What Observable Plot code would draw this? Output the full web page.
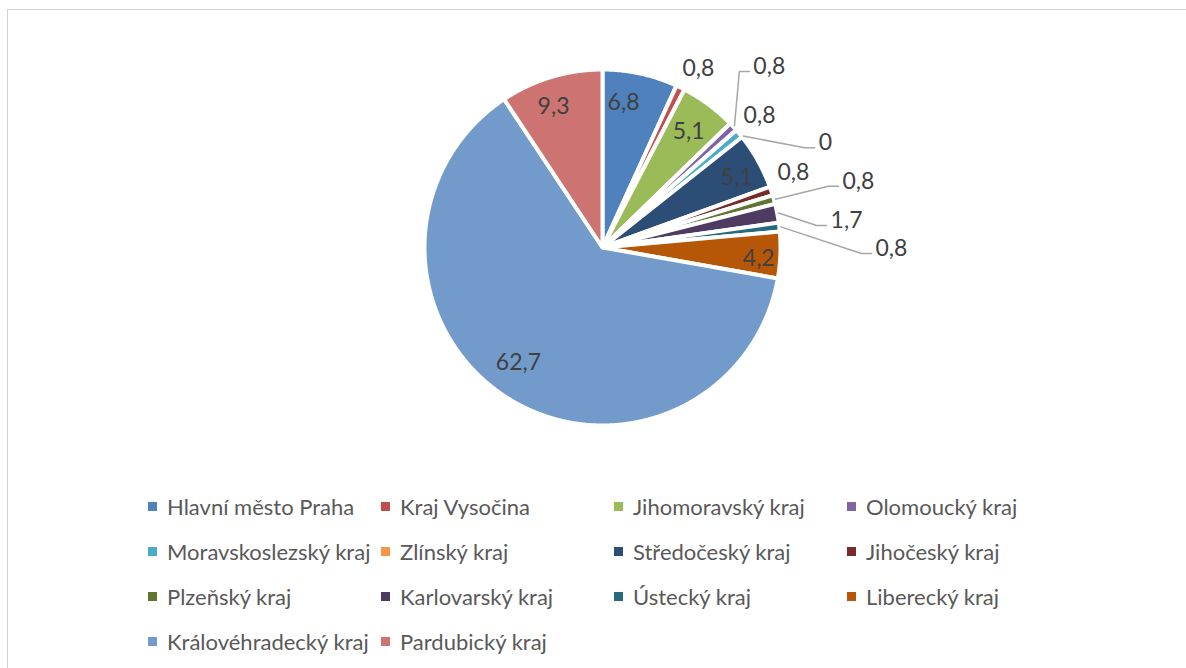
<!DOCTYPE html>
<html><head><meta charset="utf-8">
<script src="https://cdn.jsdelivr.net/npm/d3@7"></script>
<script src="https://cdn.jsdelivr.net/npm/@observablehq/plot@0.6"></script>
<style>
body{margin:0;background:#fff;font-family:Lato,"Open Sans",sans-serif}
#page{position:relative;width:1186px;height:668px;overflow:hidden;background:#fff}
#frame{position:absolute;left:7px;top:9px;width:1300px;height:800px;border-top:1px solid #d0d0d0;border-left:1px solid #d0d0d0}
#chart{position:absolute;left:0;top:0}
#legend{position:absolute;left:148px;top:484px;width:960px;display:flex;flex-wrap:wrap}
.item{width:233px;height:45px;display:flex;align-items:center;font-size:22px;color:#595959;white-space:nowrap}
.sw{width:9px;height:9px;margin-right:10px;flex:none}
</style></head><body>
<div id="page"><div id="frame"></div><div id="chart"></div><div id="legend"></div></div>
<script>
// ---- data ----
const regions = ["Hlavní město Praha","Kraj Vysočina","Jihomoravský kraj","Olomoucký kraj",
  "Moravskoslezský kraj","Zlínský kraj","Středočeský kraj","Jihočeský kraj",
  "Plzeňský kraj","Karlovarský kraj","Ústecký kraj","Liberecký kraj",
  "Královéhradecký kraj","Pardubický kraj"];
const values = [6.8,0.8,5.1,0.8,0.8,0,5.1,0.8,0.8,1.7,0.8,4.2,62.7,9.3];
const valueLabels = ["6,8","0,8","5,1","0,8","0,8","0","5,1","0,8","0,8","1,7","0,8","4,2","62,7","9,3"];
const colors = ["#4F81BD","#C0504D","#9BBB59","#8064A2","#4BACC6","#F79646","#2C4D75",
  "#772C2A","#5F7530","#4D3B62","#276A7C","#B65708","#729ACA","#CD7371"];

// ---- layout (label placement relative to each slice: radius factor, angle shift in degrees) ----
const labelLayout = [
  {pos:"in",r:0.83,da:-4},{pos:"out",r:1.153,da:2.2},{pos:"in",r:0.82,da:0},
  {pos:"lead",r:1.339,da:-7.5},{pos:"out",r:1.165,da:-0.2},{pos:"lead",r:1.365,da:12.5},
  {pos:"in",r:0.86,da:1.7},{pos:"out",r:1.165,da:-2.9},{pos:"lead",r:1.414,da:0.2},
  {pos:"lead",r:1.305,da:4.35},{pos:"lead",r:1.551,da:6.8},{pos:"in",r:0.89,da:1.6},
  {pos:"in",r:0.81,da:2.9},{pos:"in",r:0.85,da:-2.3}
];
const W = 1186, H = 480, CX = 602, CY = 247, RV = 176; // pixel center and visible radius
const RG = 178 / RV; // geometric radius (stroke eats part of it)

const rows = regions.map((name,i)=>({name, value:values[i], label:valueLabels[i], color:colors[i]}));
const arcs = d3.pie().sort(null).value(d=>d.value)(rows);

const pt = (a, r) => [Math.sin(a)*r, -Math.cos(a)*r];
const slicePts = [];
arcs.forEach(a=>{
  if (a.data.value <= 0) return;
  slicePts.push({name:a.data.name, x:0, y:0});
  const n = Math.max(2, Math.ceil((a.endAngle-a.startAngle)/0.005));
  for (let k=0;k<=n;k++){
    const t = a.startAngle + (a.endAngle-a.startAngle)*k/n;
    const [x,y] = pt(t, RG);
    slicePts.push({name:a.data.name, x, y});
  }
});

const centerLabels = [], startLabels = [], leaderPts = [];
arcs.forEach((a,i)=>{
  const L = labelLayout[i];
  const mid = (a.startAngle + a.endAngle)/2;
  const ang = mid + L.da*Math.PI/180;
  const [x,y] = pt(ang, L.r);
  if (L.pos === "lead") {
    startLabels.push({x, y, text:a.data.label});
    const ex = x - 4/RV, ey = y + 5/RV;
    const [sx,sy] = pt(mid, 1.02);
    leaderPts.push({id:i,x:sx,y:sy},{id:i,x:ex-10/RV,y:ey},{id:i,x:ex,y:ey});
  } else {
    centerLabels.push({x, y, text:a.data.label});
  }
});

const chart = Plot.plot({
  width: W, height: H, margin: 0,
  x: {domain:[-CX/RV, (W-CX)/RV], range:[0,W], axis:null},
  y: {domain:[-CY/RV, (H-CY)/RV], range:[0,H], axis:null},
  color: {domain: regions, range: colors},
  style: {fontFamily: "Lato, 'Open Sans', sans-serif", background:"transparent"},
  marks: [
    Plot.line(slicePts, {x:"x", y:"y", z:"name", fill:"name", stroke:"white", strokeWidth:4, curve:"linear-closed"}),
    Plot.line(leaderPts, {x:"x", y:"y", z:"id", stroke:"#A6A6A6", strokeWidth:1.5, strokeLinejoin:"miter", curve:"linear"}),
    Plot.text(centerLabels, {x:"x", y:"y", text:"text", fill:"#404040", fontSize:23, textAnchor:"middle"}),
    Plot.text(startLabels, {x:"x", y:"y", text:"text", fill:"#404040", fontSize:23, textAnchor:"start"})
  ]
});
document.getElementById("chart").appendChild(chart);

const leg = document.getElementById("legend");
rows.forEach(r=>{
  const it = document.createElement("div"); it.className="item";
  const sw = document.createElement("span"); sw.className="sw"; sw.style.background=r.color;
  const tx = document.createElement("span"); tx.textContent=r.name;
  it.appendChild(sw); it.appendChild(tx); leg.appendChild(it);
});
</script>
</body></html>
